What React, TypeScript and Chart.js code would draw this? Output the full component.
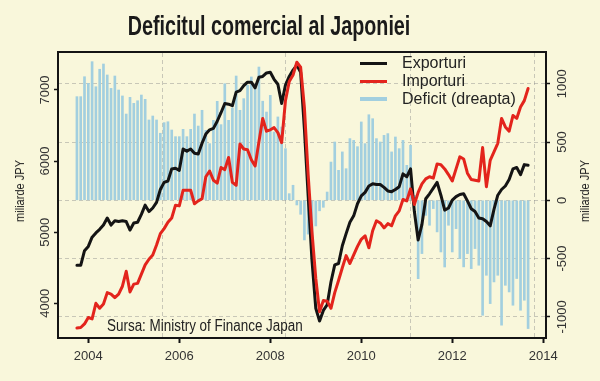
import React, { useEffect, useRef } from "react";
import { Chart, registerables } from "chart.js";

Chart.register(...registerables);

// ---- data (monthly, Oct 2003 .. Sep 2013) ----
const START_YEAR = 2003;
const START_MONTH = 10;

// Exporturi, miliarde JPY (left axis)
const exportsData = [
  4534, 4534, 4740, 4800, 4930, 4990, 5040, 5100, 5200, 5100,
  5160, 5150, 5160, 5150, 5030, 5130, 5140, 5250, 5380, 5290,
  5340, 5420, 5600, 5700, 5720, 5890, 5900, 5870, 6170, 6140,
  6170, 6110, 6100, 6250, 6380, 6440, 6460, 6560, 6680, 6810,
  6800, 6780, 6970, 6990, 7060, 7110, 7110, 7030, 7180, 7190,
  7240, 7250, 7150, 7080, 6810, 7070, 7190, 7280, 7350, 7250,
  6450, 5500, 4600, 3930, 3750, 3900, 3980, 4300, 4540, 4560,
  4810, 4980, 5140, 5230, 5400, 5510, 5560, 5650, 5680, 5670,
  5670, 5630, 5580, 5570, 5600, 5640, 5820, 5780, 5890, 5290,
  4890, 5110, 5470, 5540, 5620, 5700, 5520, 5310, 5340, 5450,
  5500, 5530, 5540, 5440, 5330, 5290, 5200, 5190, 5150, 5090,
  5320, 5520, 5600, 5650, 5740, 5890, 5910, 5810, 5950, 5940,
];

// Importuri, miliarde JPY (left axis)
const importsData = [
  3653, 3660, 3710, 3800, 3780, 4000, 3930, 3990, 4150, 4130,
  4080, 4130, 4240, 4450, 4160, 4270, 4280, 4410, 4540, 4620,
  4680, 4820, 4980, 5050, 5140, 5200, 5380, 5370, 5590, 5590,
  5590, 5400, 5440, 5470, 5780, 5860, 5730, 5690, 5910, 5880,
  6050, 5700, 5660, 6240, 6170, 6160, 6020, 5930, 6270, 6600,
  6420, 6440, 6470, 6400, 6260, 6850, 7120, 7210, 7390, 7320,
  6750, 5800, 5000, 4350, 3880, 4040, 4030, 3930, 4150, 4320,
  4500, 4670, 4560, 4680, 4800, 4900, 4950, 4780, 5020, 5160,
  5130, 5060, 5120, 5090, 5230, 5300, 5460, 5440, 5610, 5390,
  5560, 5680, 5750, 5780, 5760, 5960, 5950, 5890, 5810, 5720,
  5890, 6060, 6030, 5830, 5740, 5730, 5720, 6190, 5640, 6010,
  6130, 6250, 6600, 6480, 6420, 6640, 6600, 6760, 6850, 7020,
];

// Deficit (dreapta), miliarde JPY (right axis)
const deficitData = [
  889, 889, 1060, 1003, 1189, 974, 1124, 1169, 1075, 960,
  1066, 946, 895, 740, 883, 832, 854, 903, 866, 689,
  723, 689, 575, 666, 674, 603, 546, 546, 609, 546,
  609, 740, 637, 772, 600, 486, 686, 849, 649, 1000,
  686, 792, 1066, 772, 872, 986, 1058, 986, 1143, 850,
  757, 900, 586, 715, 629, 443, 57, 129, -40, -120,
  -340, -290, -350, -220, -90, -60, 71, 328, 500, 257,
  415, 271, 529, 514, 460, 672, 486, 734, 700, 529,
  500, 557, 572, 415, 543, 443, 514, 300, 472, 43,
  -672, -457, -129, -214, -71, -271, -443, -572, -214, -443,
  -243, -500, -571, -457, -586, -414, -557, -986, -643, -886,
  -700, -643, -1071, -729, -786, -900, -671, -943, -857, -1100,
];

const xTickYears = [2004, 2006, 2008, 2010, 2012, 2014];
const leftTicks = [4000, 5000, 6000, 7000];
const rightTicks = [-1000, -500, 0, 500, 1000];
const vGridYears = [2005.63, 2008.33, 2011.08, 2013.8];

const X_MIN = 2003.334;
const X_MAX = 2014.06;
const YL_MIN = 3512;
const YL_MAX = 7534;
const YR_MIN = -1181;
const YR_MAX = 1272;

// ---- styles ----
const BG = "#f9f7db";
const BLACK = "#141414";
const RED = "#e3241c";
const BLUE = "#a2cfdf";
const GRID = "rgba(140,140,140,0.45)";
const SANS = '"Liberation Sans", Arial, sans-serif';

const monthX = (i: number) => START_YEAR + (START_MONTH - 1 + i) / 12;
const toPoints = (arr: number[]) => arr.map((v, i) => ({ x: monthX(i), y: v }));
const setTicks = (vals: number[]) => (scale: any) => {
  scale.ticks = vals.map((v) => ({ value: v }));
};
const tickFont = { family: SANS, size: 13 };

export default function App() {
  const ref = useRef<HTMLCanvasElement | null>(null);

  useEffect(() => {
    const canvas = ref.current;
    if (!canvas) return;
    const chart = new Chart(canvas, {
      type: "bar",
      data: {
        datasets: [
          {
            type: "line",
            label: "Importuri",
            data: toPoints(importsData),
            borderColor: RED,
            borderWidth: 3,
            pointRadius: 0,
            tension: 0,
            fill: false,
            borderJoinStyle: "round",
            borderCapStyle: "round",
            xAxisID: "x",
            yAxisID: "yL",
            order: 1,
          } as any,
          {
            type: "line",
            label: "Exporturi",
            data: toPoints(exportsData),
            borderColor: BLACK,
            borderWidth: 3,
            pointRadius: 0,
            tension: 0,
            fill: false,
            borderJoinStyle: "round",
            borderCapStyle: "round",
            xAxisID: "x",
            yAxisID: "yL",
            order: 2,
          } as any,
          {
            type: "bar",
            label: "Deficit (dreapta)",
            data: toPoints(deficitData),
            backgroundColor: BLUE,
            borderWidth: 0,
            barThickness: 2,
            grouped: false,
            xAxisID: "x",
            yAxisID: "yR",
            order: 3,
          } as any,
        ],
      },
      options: {
        responsive: false,
        animation: false,
        devicePixelRatio: 1,
        layout: { padding: { top: 52, left: 0, right: 0, bottom: 0 } },
        plugins: {
          legend: { display: false },
          tooltip: { enabled: false },
          title: { display: false },
        },
        scales: {
          x: {
            type: "linear",
            position: "bottom",
            min: X_MIN,
            max: X_MAX,
            offset: false,
            afterBuildTicks: setTicks(xTickYears),
            afterFit: (s: any) => {
              s.height = 43;
            },
            grid: {
              display: true,
              offset: false,
              drawOnChartArea: false,
              drawTicks: true,
              tickLength: 5,
              tickColor: BLACK,
              tickWidth: 2,
            },
            border: { display: true, color: BLACK, width: 2 },
            ticks: {
              font: tickFont,
              color: "#333",
              padding: 5.5,
              minRotation: 0,
              maxRotation: 0,
              autoSkip: false,
              callback: (v: any) => String(v),
            },
          },
          xt: {
            type: "linear",
            position: "top",
            min: X_MIN,
            max: X_MAX,
            offset: false,
            afterBuildTicks: setTicks(vGridYears),
            afterFit: (s: any) => {
              s.height = 0;
            },
            ticks: { display: false },
            grid: {
              display: true,
              offset: false,
              drawOnChartArea: true,
              drawTicks: false,
              color: GRID,
              lineWidth: 1,
            },
            border: { display: true, color: BLACK, width: 2, dash: [4, 3] },
          },
          yL: {
            type: "linear",
            position: "left",
            min: YL_MIN,
            max: YL_MAX,
            afterBuildTicks: setTicks(leftTicks),
            afterFit: (s: any) => {
              s.width = 58;
            },
            grid: {
              display: true,
              drawOnChartArea: false,
              drawTicks: true,
              tickLength: 4,
              tickColor: BLACK,
              tickWidth: 1.5,
            },
            border: { display: true, color: BLACK, width: 2 },
            ticks: {
              font: tickFont,
              color: "#333",
              minRotation: 90,
              maxRotation: 90,
              crossAlign: "center",
              padding: -5.5,
              autoSkip: false,
              callback: (v: any) => String(v),
            },
          },
          yR: {
            type: "linear",
            position: "right",
            min: YR_MIN,
            max: YR_MAX,
            afterBuildTicks: setTicks(rightTicks),
            afterFit: (s: any) => {
              s.width = 54;
            },
            grid: {
              display: true,
              drawOnChartArea: true,
              drawTicks: true,
              tickLength: 4,
              color: GRID,
              lineWidth: 1,
              tickColor: BLACK,
              tickWidth: 1.5,
            },
            border: { display: true, color: BLACK, width: 2, dash: [4, 3] },
            ticks: {
              font: tickFont,
              color: "#333",
              minRotation: 90,
              maxRotation: 90,
              crossAlign: "center",
              padding: -4.6,
              autoSkip: false,
              callback: (v: any) => String(v),
            },
          },
        },
      } as any,
    });
    return () => chart.destroy();
  }, []);

  const legendRow = (top: number, color: string, h: number, label: string) => (
    <>
      <div
        style={{
          position: "absolute",
          left: 360,
          top: top - h / 2,
          width: 27,
          height: h,
          background: color,
        }}
      />
      <div
        style={{
          position: "absolute",
          left: 402,
          top: top - 9.2,
          fontFamily: SANS,
          fontSize: 16,
          lineHeight: "18px",
          color: "#222",
          whiteSpace: "nowrap",
        }}
      >
        {label}
      </div>
    </>
  );

  const axisTitle = (cx: number) => (
    <div
      style={{
        position: "absolute",
        left: cx,
        top: 191,
        transform: "translate(-50%, -50%) rotate(-90deg) scaleX(0.82)",
        fontFamily: SANS,
        fontSize: 13.5,
        lineHeight: "16px",
        color: "#222",
        whiteSpace: "nowrap",
      }}
    >
      miliarde JPY
    </div>
  );

  return (
    <div
      style={{
        position: "absolute",
        left: 0,
        top: 0,
        width: 600,
        height: 381,
        background: BG,
        overflow: "hidden",
      }}
    >
      <canvas
        ref={ref}
        width={600}
        height={381}
        style={{ position: "absolute", left: 0, top: 0, width: 600, height: 381 }}
      />
      <div
        style={{
          position: "absolute",
          left: 269,
          top: 10.6,
          transform: "translateX(-50%) scaleX(0.73)",
          fontFamily: SANS,
          fontWeight: "bold",
          fontSize: 27,
          lineHeight: "30px",
          color: "#1a1a1a",
          whiteSpace: "nowrap",
        }}
      >
        Deficitul comercial al Japoniei
      </div>
      {legendRow(63, BLACK, 3, "Exporturi")}
      {legendRow(81, RED, 3, "Importuri")}
      {legendRow(99, BLUE, 4, "Deficit (dreapta)")}
      <div
        style={{
          position: "absolute",
          left: 107,
          top: 317.2,
          transform: "scaleX(0.84)",
          transformOrigin: "0 50%",
          fontFamily: SANS,
          fontSize: 16,
          lineHeight: "18px",
          color: "#222",
          whiteSpace: "nowrap",
        }}
      >
        Sursa: Ministry of Finance Japan
      </div>
      {axisTitle(20)}
      {axisTitle(585)}
    </div>
  );
}
